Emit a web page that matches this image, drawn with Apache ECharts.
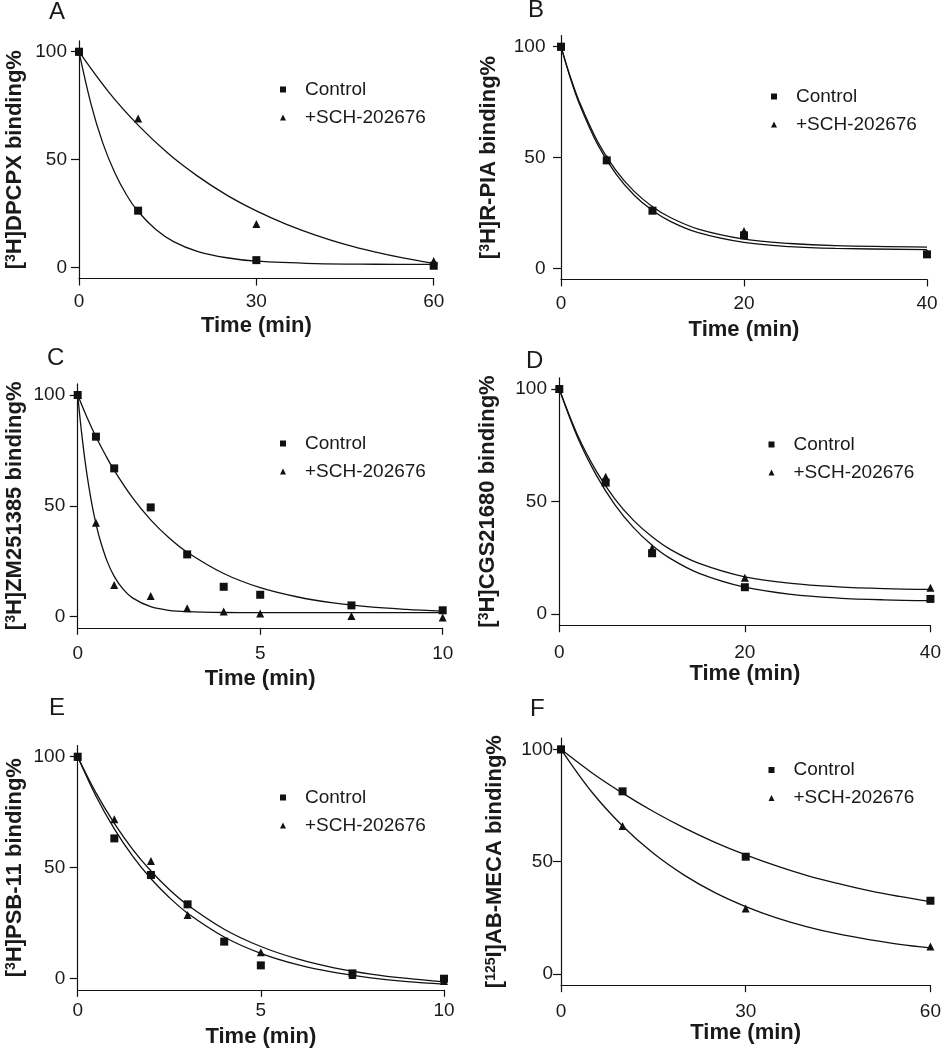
<!DOCTYPE html>
<html>
<head>
<meta charset="utf-8">
<script src="https://cdn.jsdelivr.net/npm/echarts@6/dist/echarts.min.js"></script>
<style>
  html, body { margin: 0; padding: 0; background: #fff; }
  #chart { width: 944px; height: 1050px; }
</style>
</head>
<body>
<div id="chart"></div>
<script>
// 数据：各面板的时间点与结合百分比
const yTicks = [0, 50, 100]

// A  [3H]DPCPX
const xTicksA = [0, 30, 60]
const timeA = [0, 10, 30, 60]
const controlA = [100, 26.4, 3.5, 0.9]
const schA = [100, 69.1, 20.2, 3.1]
const fitTimeCtrlA = [0, 2, 4, 6, 8, 10, 13, 16, 20, 25, 30, 40, 50, 60]
const fitCtrlA = [100, 76.1, 57.9, 44.3, 33.9, 26.0, 17.7, 12.1, 7.6, 4.6, 3.0, 1.9, 1.6, 1.5]
const fitTimeSchA = [0, 5, 10, 15, 20, 25, 30, 35, 40, 45, 50, 55, 60]
const fitSchA = [100, 81.4, 66.0, 53.1, 42.5, 33.6, 26.3, 20.2, 15.1, 10.8, 7.3, 4.4, 2.0]

// B  [3H]R-PIA
const xTicksB = [0, 20, 40]
const timeB = [0, 5, 10, 20, 40]
const controlB = [100, 48.7, 26.0, 14.9, 6.3]
const schB = [100, 49.5, 26.5, 16.8, 6.8]
const fitTimeB = [0, 1, 2, 4, 6, 8, 10, 12, 15, 20, 25, 30, 40]
const fitCtrlB = [100, 86.1, 74.3, 55.9, 42.6, 33.0, 26.1, 21.1, 16.1, 11.7, 9.8, 9.0, 8.4]
const fitSchB = [100, 86.6, 75.2, 57.2, 44.2, 34.7, 27.8, 22.8, 17.7, 13.2, 11.2, 10.2, 9.6]

// C  [3H]ZM251385
const xTicksC = [0, 5, 10]
const timeC = [0, 0.5, 1, 2, 3, 4, 5, 7.5, 10]
const controlC = [100, 81.2, 66.9, 49.3, 28.1, 13.5, 9.9, 5.1, 2.9]
const schC = [100, 42.4, 14.3, 9.3, 3.8, 2.3, 1.5, 0.3, -0.3]
const fitTimeCtrlC = [0, 0.25, 0.5, 0.75, 1, 1.5, 2, 2.5, 3, 4, 5, 6, 7, 8, 9, 10]
const fitCtrlC = [100, 90.1, 81.2, 73.3, 66.0, 53.7, 43.7, 35.6, 29.1, 19.5, 13.1, 9.0, 6.2, 4.4, 3.3, 2.5]
const fitTimeSchC = [0, 0.1, 0.2, 0.3, 0.4, 0.5, 0.6, 0.8, 1, 1.25, 1.5, 2, 2.5, 3, 4, 5, 7.5, 10]
const fitSchC = [100, 83.9, 70.4, 59.2, 49.8, 42.0, 35.4, 25.3, 18.2, 12.3, 8.5, 4.5, 2.9, 2.3, 1.9, 1.8, 1.8, 1.8]

// D  [3H]CGS21680
const xTicksD = [0, 20, 40]
const timeD = [0, 5, 10, 20, 40]
const controlD = [100, 58.4, 27.0, 11.9, 6.7]
const schD = [100, 61.0, 29.2, 16.1, 11.7]
const fitTimeD = [0, 2, 4, 6, 8, 10, 12, 15, 20, 25, 30, 35, 40]
const fitCtrlD = [100, 78.2, 61.6, 48.5, 38.4, 30.6, 24.6, 18.2, 11.9, 8.7, 7.1, 6.3, 5.9]
const fitSchD = [100, 79.2, 63.4, 51.1, 41.6, 34.3, 28.6, 22.6, 16.5, 13.6, 12.1, 11.3, 10.9]

// E  [3H]PSB-11
const xTicksE = [0, 5, 10]
const timeE = [0, 1, 2, 3, 4, 5, 7.5, 10]
const controlE = [100, 63.2, 46.7, 33.5, 16.7, 6.0, 2.4, 0]
const schE = [100, 71.8, 53.0, 28.7, 17.0, 11.9, 1.7, -1.0]
const fitTimeE = [0, 0.5, 1, 1.5, 2, 2.5, 3, 4, 5, 6, 7, 8, 9, 10]
const fitCtrlE = [100, 83.7, 70.0, 58.3, 48.5, 40.2, 33.2, 22.3, 14.5, 8.9, 4.9, 2.1, 0.1, -1.4]
const fitSchE = [100, 82.2, 67.5, 55.2, 45.0, 36.6, 29.5, 18.8, 11.4, 6.3, 2.8, 0.4, -1.3, -2.4]

// F  [125I]AB-MECA
const xTicksF = [0, 30, 60]
const timeF = [0, 10, 30, 60]
const controlF = [100, 81.3, 52.2, 32.6]
const schF = [100, 65.9, 29.1, 12.2]
const fitTimeF = [0, 5, 10, 15, 20, 25, 30, 35, 40, 45, 50, 55, 60]
const fitCtrlF = [100, 89.6, 80.5, 72.3, 65.0, 58.6, 53.0, 48.1, 43.8, 40.3, 37.1, 34.5, 32.2]
const fitSchF = [100, 81.0, 65.9, 53.7, 44.0, 36.2, 30.0, 25.0, 21.0, 17.8, 15.3, 13.2, 11.6]

const letters = ['A', 'B', 'C', 'D', 'E', 'F']
const yNames = [
  '[{s|3}H]DPCPX binding%',
  '[{s|3}H]R-PIA binding%',
  '[{s|3}H]ZM251385 binding%',
  '[{s|3}H]CGS21680 binding%',
  '[{s|3}H]PSB-11 binding%',
  '[{s|125}I]AB-MECA binding%'
]
const xName = 'Time (min)'
const legendNames = ['Control', '+SCH-202676']

const panelData = [
  { xTicks: xTicksA, time: timeA, ctrl: controlA, sch: schA, fitTC: fitTimeCtrlA, fitC: fitCtrlA, fitTS: fitTimeSchA, fitS: fitSchA },
  { xTicks: xTicksB, time: timeB, ctrl: controlB, sch: schB, fitTC: fitTimeB, fitC: fitCtrlB, fitTS: fitTimeB, fitS: fitSchB },
  { xTicks: xTicksC, time: timeC, ctrl: controlC, sch: schC, fitTC: fitTimeCtrlC, fitC: fitCtrlC, fitTS: fitTimeSchC, fitS: fitSchC },
  { xTicks: xTicksD, time: timeD, ctrl: controlD, sch: schD, fitTC: fitTimeD, fitC: fitCtrlD, fitTS: fitTimeD, fitS: fitSchD },
  { xTicks: xTicksE, time: timeE, ctrl: controlE, sch: schE, fitTC: fitTimeE, fitC: fitCtrlE, fitTS: fitTimeE, fitS: fitSchE },
  { xTicks: xTicksF, time: timeF, ctrl: controlF, sch: schF, fitTC: fitTimeF, fitC: fitCtrlF, fitTS: fitTimeF, fitS: fitSchF }
]

// 版面位置（像素）
const layout = [
  { left: 79, top: 40.9, width: 354.7, height: 237.6, yMargin: 12, yGap: 53, xMargin: 14, xGap: 36, lg: [280, 80], lt: [49, 0] },
  { left: 561, top: 35.6, width: 366, height: 243.8, yMargin: 15.5, yGap: 61, xMargin: 14.5, xGap: 40, lg: [771, 87], lt: [528, -2] },
  { left: 77.7, top: 383.9, width: 365, height: 243.9, yMargin: 12.5, yGap: 52, xMargin: 16.5, xGap: 40, lg: [280, 434], lt: [47, 346] },
  { left: 559.3, top: 377.75, width: 372, height: 247.5, yMargin: 12.3, yGap: 60, xMargin: 18, xGap: 38, lg: [768.5, 435], lt: [526, 349] },
  { left: 77.7, top: 745.6, width: 366.3, height: 244.2, yMargin: 12.5, yGap: 52, xMargin: 11, xGap: 36, lg: [280, 788], lt: [49, 696] },
  { left: 561, top: 738.1, width: 372, height: 247.1, yMargin: 8, yGap: 55, xMargin: 17, xGap: 37, lg: [768.5, 760.5], lt: [530, 697] }
]

const FONT = '"Liberation Sans", Arial, sans-serif'
const INK = '#111'
const TEXT = '#1a1a1a'

const zip = (xs, ys) => xs.map((x, i) => [x, ys[i]])

const option = {
  animation: false,
  backgroundColor: '#fff',
  textStyle: { fontFamily: FONT },
  title: layout.map((l, i) => ({
    text: letters[i],
    left: l.lt[0],
    top: l.lt[1],
    padding: 0,
    textStyle: { fontSize: 24, fontWeight: 'normal', color: TEXT, fontFamily: FONT }
  })),
  grid: layout.map(l => ({ left: l.left, top: l.top, width: l.width, height: l.height, containLabel: false })),
  legend: layout.map(l => ({
    orient: 'vertical',
    left: l.lg[0],
    top: l.lg[1],
    padding: 0,
    itemWidth: 6,
    itemHeight: 6,
    itemGap: 9,
    selectedMode: false,
    data: [
      { name: legendNames[0], icon: 'rect' },
      { name: legendNames[1], icon: 'triangle' }
    ],
    textStyle: { fontSize: 19, color: TEXT, fontFamily: FONT, padding: [0, 0, 0, 14] }
  })),
  xAxis: panelData.map((p, i) => ({
    gridIndex: i,
    type: 'value',
    min: p.xTicks[0],
    max: p.xTicks[p.xTicks.length - 1],
    name: xName,
    nameLocation: 'middle',
    nameGap: layout[i].xGap,
    nameTextStyle: { fontSize: 22, fontWeight: 'bold', color: TEXT, fontFamily: FONT, verticalAlign: 'top' },
    splitLine: { show: false },
    axisLine: { show: true, onZero: false, lineStyle: { color: INK, width: 1.2 } },
    axisTick: { show: true, length: 7, customValues: p.xTicks, lineStyle: { color: INK, width: 1.2 } },
    axisLabel: { customValues: p.xTicks, margin: layout[i].xMargin, fontSize: 19, color: TEXT, fontFamily: FONT }
  })),
  yAxis: panelData.map((p, i) => ({
    gridIndex: i,
    type: 'value',
    min: -5,
    max: 105,
    name: yNames[i],
    nameLocation: 'middle',
    nameGap: layout[i].yGap,
    nameTextStyle: {
      fontSize: 22,
      fontWeight: 'bold',
      color: TEXT,
      fontFamily: FONT,
      rich: {
        s: { fontSize: 14, fontWeight: 'bold', color: TEXT, fontFamily: FONT, verticalAlign: 'top' }
      }
    },
    splitLine: { show: false },
    axisLine: { show: true, onZero: false, lineStyle: { color: INK, width: 1.2 } },
    axisTick: { show: true, length: 8, customValues: yTicks, lineStyle: { color: INK, width: 1.2 } },
    axisLabel: { customValues: yTicks, margin: layout[i].yMargin, fontSize: 19, color: TEXT, fontFamily: FONT }
  })),
  series: []
}

panelData.forEach((p, i) => {
  const base = { xAxisIndex: i, yAxisIndex: i }
  // 拟合曲线
  const fitLine = (name, xs, ys) => ({
    ...base,
    name,
    type: 'line',
    data: zip(xs, ys),
    smooth: 0.35,
    showSymbol: false,
    silent: true,
    lineStyle: { color: INK, width: 1.3 },
    itemStyle: { color: INK },
    z: 2
  })
  option.series.push(
    fitLine(legendNames[0] + ' fit', p.fitTC, p.fitC),
    fitLine(legendNames[1] + ' fit', p.fitTS, p.fitS),
    {
      ...base,
      name: legendNames[0],
      type: 'scatter',
      symbol: 'rect',
      symbolSize: 8,
      data: zip(p.time, p.ctrl),
      itemStyle: { color: INK, opacity: 1 },
      z: 3
    },
    {
      ...base,
      name: legendNames[1],
      type: 'scatter',
      symbol: 'triangle',
      symbolSize: 8,
      data: zip(p.time, p.sch),
      itemStyle: { color: INK, opacity: 1 },
      z: 3
    }
  )
})

const myChart = echarts.init(document.getElementById('chart'), null, { renderer: 'canvas' })
myChart.setOption(option)
</script>
</body>
</html>
